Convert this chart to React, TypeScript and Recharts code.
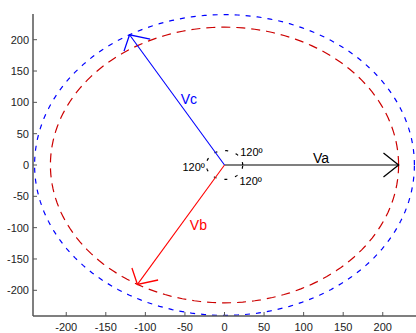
import React from "react";
import {
  ComposedChart,
  Line,
  XAxis,
  YAxis,
  ReferenceDot,
} from "recharts";

// phasor magnitudes / angles (deg)
const phasorNames = ["Va", "Vb", "Vc"];
const phasorMags = [220, 220, 240];
const phasorAngles = [0, -120, 120];
const phasorColors = ["#000000", "#ff0000", "#0000ff"];

// dashed reference circles
const circleRadii = [240, 220, 23];
const circleColors = ["#0000ff", "#cc0000", "#000000"];
const circleDash = ["5 6", "9 6", "3 8"];

const xTicks = [-200, -150, -100, -50, 0, 50, 100, 150, 200];
const yTicks = [-200, -150, -100, -50, 0, 50, 100, 150, 200];

// text annotations (data coords)
const labelText = ["Va", "Vb", "Vc", "120º", "120º", "120º"];
const labelX = [122, -33, -45, 34, -39, 33];
const labelY = [11, -96, 106, 20, -3, -25];
const labelColor = ["#000000", "#ff0000", "#0000ff", "#000000", "#000000", "#000000"];
const labelSize = [14, 14, 14, 11, 11, 11];

const HEAD_LEN = 27;
const HEAD_ANGLE = 45;

const rad = (d: number) => (d * Math.PI) / 180;

function circlePts(r: number) {
  const pts = [];
  for (let a = 0; a <= 360; a += 2) {
    pts.push({ x: r * Math.cos(rad(a)), y: r * Math.sin(rad(a)) });
  }
  return pts;
}

function tipOf(i: number) {
  return {
    x: phasorMags[i] * Math.cos(rad(phasorAngles[i])),
    y: phasorMags[i] * Math.sin(rad(phasorAngles[i])),
  };
}

function headPts(i: number) {
  const t = tipOf(i);
  const back = phasorAngles[i] + 180;
  const p = (d: number) => ({
    x: t.x + HEAD_LEN * Math.cos(rad(back + d)),
    y: t.y + HEAD_LEN * Math.sin(rad(back + d)),
  });
  return [p(HEAD_ANGLE), t, p(-HEAD_ANGLE)];
}

const font = "'Liberation Sans', Arial, Helvetica, sans-serif";

export default function App() {
  return (
    <div style={{ position: "absolute", left: 0, top: 0, background: "#fff" }}>
      <ComposedChart
        width={416}
        height={333}
        margin={{ top: 14, right: 0, bottom: 0, left: 0 }}
        style={{ fontFamily: font }}
      >
        <XAxis
          type="number"
          dataKey="x"
          domain={[-242, 242]}
          ticks={xTicks}
          allowDataOverflow
          height={17}
          axisLine={{ stroke: "#555", strokeWidth: 1.5 }}
          tickLine={{ stroke: "#555" }}
          tickSize={-4}
          tickMargin={11}
          tick={{ fill: "#222", fontSize: 11 }}
        />
        <YAxis
          type="number"
          dataKey="y"
          domain={[-241, 241]}
          ticks={yTicks}
          allowDataOverflow
          width={33}
          axisLine={{ stroke: "#555", strokeWidth: 1.5 }}
          tickLine={{ stroke: "#555" }}
          tickSize={-4}
          tickMargin={8}
          tick={{ fill: "#222", fontSize: 11 }}
        />
        {circleRadii.map((r, i) => (
          <Line
            key={"c" + i}
            data={circlePts(r)}
            dataKey="y"
            stroke={circleColors[i]}
            strokeDasharray={circleDash[i]}
            strokeWidth={1.2}
            dot={false}
            activeDot={false}
            isAnimationActive={false}
          />
        ))}
        {phasorNames.map((n, i) => (
          <Line
            key={"v" + n}
            data={[{ x: 0, y: 0 }, tipOf(i)]}
            dataKey="y"
            stroke={phasorColors[i]}
            strokeWidth={1.1}
            dot={false}
            activeDot={false}
            isAnimationActive={false}
          />
        ))}
        {phasorNames.map((n, i) => (
          <Line
            key={"h" + n}
            data={headPts(i)}
            dataKey="y"
            stroke={phasorColors[i]}
            strokeWidth={1.3}
            dot={false}
            activeDot={false}
            isAnimationActive={false}
          />
        ))}
        {labelText.map((t, i) => (
          <ReferenceDot
            key={"l" + i}
            x={labelX[i]}
            y={labelY[i]}
            r={0}
            fill="none"
            stroke="none"
            label={{
              value: t,
              position: "center",
              fill: labelColor[i],
              fontSize: labelSize[i],
              fontFamily: font,
            }}
          />
        ))}
      </ComposedChart>
    </div>
  );
}
